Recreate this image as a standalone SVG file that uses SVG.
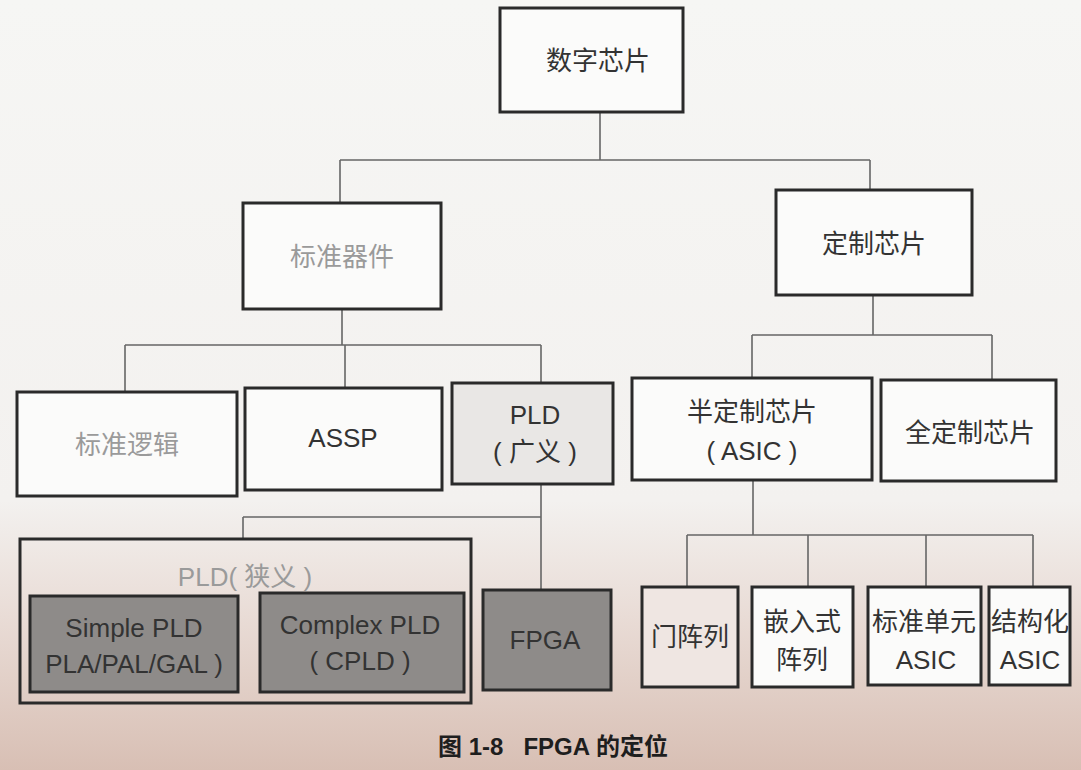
<svg xmlns="http://www.w3.org/2000/svg" width="1081" height="770" viewBox="0 0 1081 770">
<defs>
<linearGradient id="bg" x1="0" y1="0" x2="0" y2="1">
<stop offset="0" stop-color="#f6f6f4"/>
<stop offset="0.65" stop-color="#f3f1ef"/>
<stop offset="0.8" stop-color="#e9dcd6"/>
<stop offset="1" stop-color="#d8bfb4"/>
</linearGradient>
<style>
.box{fill:#fbfbfa;stroke:#2a2a2a;stroke-width:3}
.lite{fill:#e9e7e5;stroke:#2a2a2a;stroke-width:3}
.pale{fill:#efe6e2;stroke:#2a2a2a;stroke-width:3}
.dark{fill:#8e8b89;stroke:#2a2a2a;stroke-width:3}
.outer{fill:none;stroke:#2a2a2a;stroke-width:3}
.t{font-family:"Liberation Sans","Noto Sans CJK SC",sans-serif;font-size:26px;fill:#333;text-anchor:middle}
.faint{fill:#9a9a9a}
.conn{fill:none;stroke:#666;stroke-width:1.6}
.cap{font-family:"Liberation Sans","Noto Sans CJK SC",sans-serif;font-size:24px;font-weight:bold;fill:#1e1e1e;text-anchor:middle}
</style>
</defs>
<rect x="0" y="0" width="1081" height="770" fill="url(#bg)"/>
<g id="connectors">
<path class="conn" d="M600,112 V160 M340,160 H870 M340,160 V203 M870,160 V190"/>
<path class="conn" d="M342,309 V345 M125,345 H541 M125,345 V392 M345,345 V388 M541,345 V383"/>
<path class="conn" d="M541,484 V590 M243,517 H541 M243,517 V539"/>
<path class="conn" d="M873,295 V335 M752,335 H992 M752,335 V378 M992,335 V380"/>
<path class="conn" d="M753,480 V535 M687,535 H1033 M687,535 V587 M808,535 V587 M926,535 V587 M1033,535 V587"/>
</g>
<g id="n-digital"><rect class="box" x="500" y="8" width="183" height="104"/><text class="t" x="598" y="70" font-size="28">数字芯片</text></g>
<g id="n-standard"><rect class="box" x="243" y="203" width="198" height="106"/><text class="t faint" x="342" y="266" font-size="27">标准器件</text></g>
<g id="n-custom"><rect class="box" x="776" y="190" width="196" height="105"/><text class="t" x="874" y="253" font-size="27">定制芯片</text></g>
<g id="n-logic"><rect class="box" x="17" y="392" width="220" height="104"/><text class="t faint" x="127" y="454">标准逻辑</text></g>
<g id="n-assp"><rect class="box" x="245" y="388" width="197" height="102"/><text class="t" x="343" y="447">ASSP</text></g>
<g id="n-pld-broad"><rect class="lite" x="452" y="383" width="161" height="101"/><text class="t" x="535" y="424">PLD</text><text class="t" x="535" y="461">( 广义 )</text></g>
<g id="n-pld-narrow"><rect class="outer" x="20" y="539" width="451" height="164"/><text class="t faint" x="245" y="586">PLD( 狭义 )</text></g>
<g id="n-spld"><rect class="dark" x="30" y="596" width="208" height="96"/><text class="t" x="134" y="637" fill="#555">Simple PLD</text><text class="t" x="134" y="673" fill="#555">PLA/PAL/GAL )</text></g>
<g id="n-cpld"><rect class="dark" x="260" y="593" width="204" height="99"/><text class="t" x="360" y="634" fill="#3a3a3a">Complex PLD</text><text class="t" x="360" y="670" fill="#3a3a3a">( CPLD )</text></g>
<g id="n-fpga"><rect class="dark" x="483" y="590" width="128" height="100"/><text class="t" x="545" y="649" fill="#333">FPGA</text></g>
<g id="n-semi"><rect class="box" x="632" y="378" width="240" height="102"/><text class="t" x="752" y="421">半定制芯片</text><text class="t" x="752" y="460">( ASIC )</text></g>
<g id="n-full"><rect class="box" x="881" y="380" width="175" height="101"/><text class="t" x="970" y="442">全定制芯片</text></g>
<g id="n-gate"><rect class="pale" x="642" y="587" width="96" height="100"/><text class="t" x="690" y="646">门阵列</text></g>
<g id="n-embedded"><rect class="box" x="752" y="587" width="101" height="100"/><text class="t" x="802" y="631">嵌入式</text><text class="t" x="802" y="669">阵列</text></g>
<g id="n-cell"><rect class="box" x="868" y="587" width="113" height="98"/><text class="t" x="924" y="631">标准单元</text><text class="t" x="926" y="669">ASIC</text></g>
<g id="n-struct"><rect class="box" x="989" y="587" width="81" height="98"/><text class="t" x="1030" y="631">结构化</text><text class="t" x="1030" y="669">ASIC</text></g>
<text class="cap" x="553" y="755" xml:space="preserve">图 1-8   FPGA 的定位</text>
</svg>
